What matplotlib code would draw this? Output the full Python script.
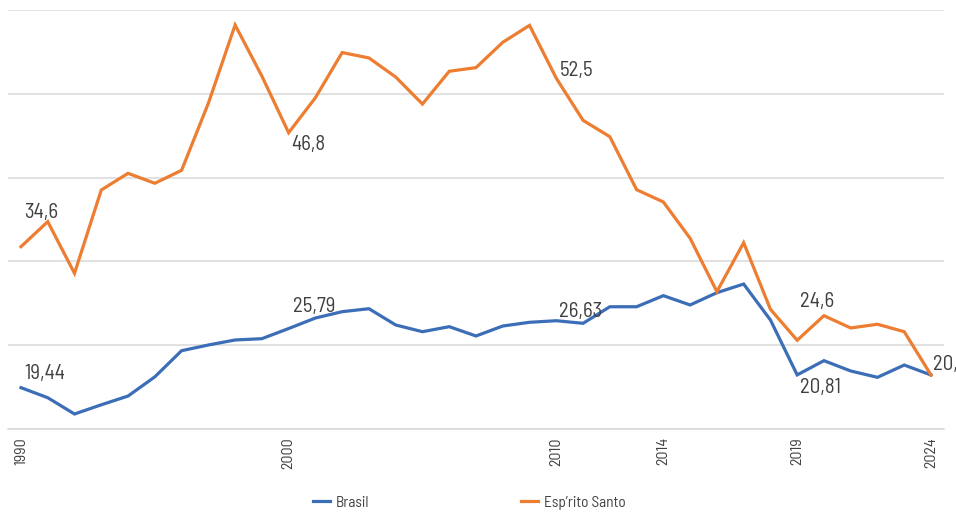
import numpy as np
import matplotlib
matplotlib.use("Agg")
import matplotlib.pyplot as plt

years = list(range(1990, 2025))
brasil = [19.44, 18.36, 16.61, 17.6, 18.54, 20.6, 23.41, 24.02, 24.56, 24.70,
          25.79, 26.92, 27.60, 27.92, 26.17, 25.45, 25.99, 24.99, 26.06, 26.46,
          26.63, 26.35, 28.13, 28.13, 29.32, 28.32, 29.64, 30.57, 26.71, 20.81,
          22.34, 21.23, 20.55, 21.87, 20.80]
espirito_santo = [34.58, 37.27, 31.72, 40.67, 42.46, 41.39, 42.78, 49.98, 58.39, 52.9,
                  46.82, 50.58, 55.43, 54.85, 52.8, 49.90, 53.42, 53.81, 56.53, 58.35,
                  52.67, 48.15, 46.39, 40.70, 39.38, 35.48, 29.75, 35.01, 27.86, 24.53,
                  27.17, 25.85, 26.25, 25.45, 20.80]
shown_years = [1990, 2000, 2010, 2014, 2019, 2024]

# (series, year, text, dx px, dy px)
point_labels = [
    ("es", 1990, "34,6", 3, 29), ("es", 2000, "46,8", 3, -17), ("es", 2010, "52,5", 3, 2),
    ("es", 2019, "24,6", 3, 33), ("es", 2024, "20,8", 2, 5),
    ("br", 1990, "19,44", 3, 9), ("br", 2000, "25,79", 4, 17), ("br", 2010, "26,63", 3, 4),
    ("br", 2019, "20,81", 3, -18),
]

BLUE = "#3C6EB8"
ORANGE = "#ED7D31"
TEXT = "#404040"
GRID = "#D9D9D9"

plt.rcParams["font.family"] = ["Barlow Semi Condensed", "DejaVu Sans"]

fig = plt.figure(figsize=(9.56, 5.14), dpi=100)
ax = fig.add_axes([7.6 / 956, 1 - 429 / 514, (944.4 - 7.6) / 956, (429 - 10) / 514])

x = np.arange(len(years))
ax.plot(x, brasil, color=BLUE, lw=2.3, label="Brasil", solid_joinstyle="miter")
ax.plot(x, espirito_santo, color=ORANGE, lw=2.3, label="Esp’rito Santo", solid_joinstyle="miter")

ax.set_xlim(-0.5, len(years) - 0.5)
ax.set_ylim(15, 60)
ax.set_yticks(np.arange(15, 61, 9))
ax.yaxis.grid(True, color=GRID, lw=1.1)
ax.set_axisbelow(True)
ax.tick_params(axis="y", left=False, labelleft=False)
for s in ["top", "right", "left"]:
    ax.spines[s].set_visible(False)
ax.spines["bottom"].set_color(GRID)
ax.spines["bottom"].set_linewidth(1.1)

ax.set_xticks([years.index(y) for y in shown_years])
ax.set_xticklabels([str(y) for y in shown_years], rotation=90, fontsize=11.5, color=TEXT)
ax.tick_params(axis="x", length=0, pad=6)

series = {"br": brasil, "es": espirito_santo}
for key, yr, txt, dx, dy in point_labels:
    i = years.index(yr)
    ax.annotate(txt, (i, series[key][i]), xytext=(dx, dy), textcoords="offset pixels",
                ha="left", va="baseline", fontsize=15, color=TEXT, annotation_clip=False)

fig.legend(loc="center", bbox_to_anchor=(0.4911, 0.022), ncol=2, frameon=False,
           fontsize=11, labelcolor=TEXT, handlelength=1.1, handletextpad=0.4,
           columnspacing=9.9)

fig.savefig("out.png", dpi=100, facecolor="white")
